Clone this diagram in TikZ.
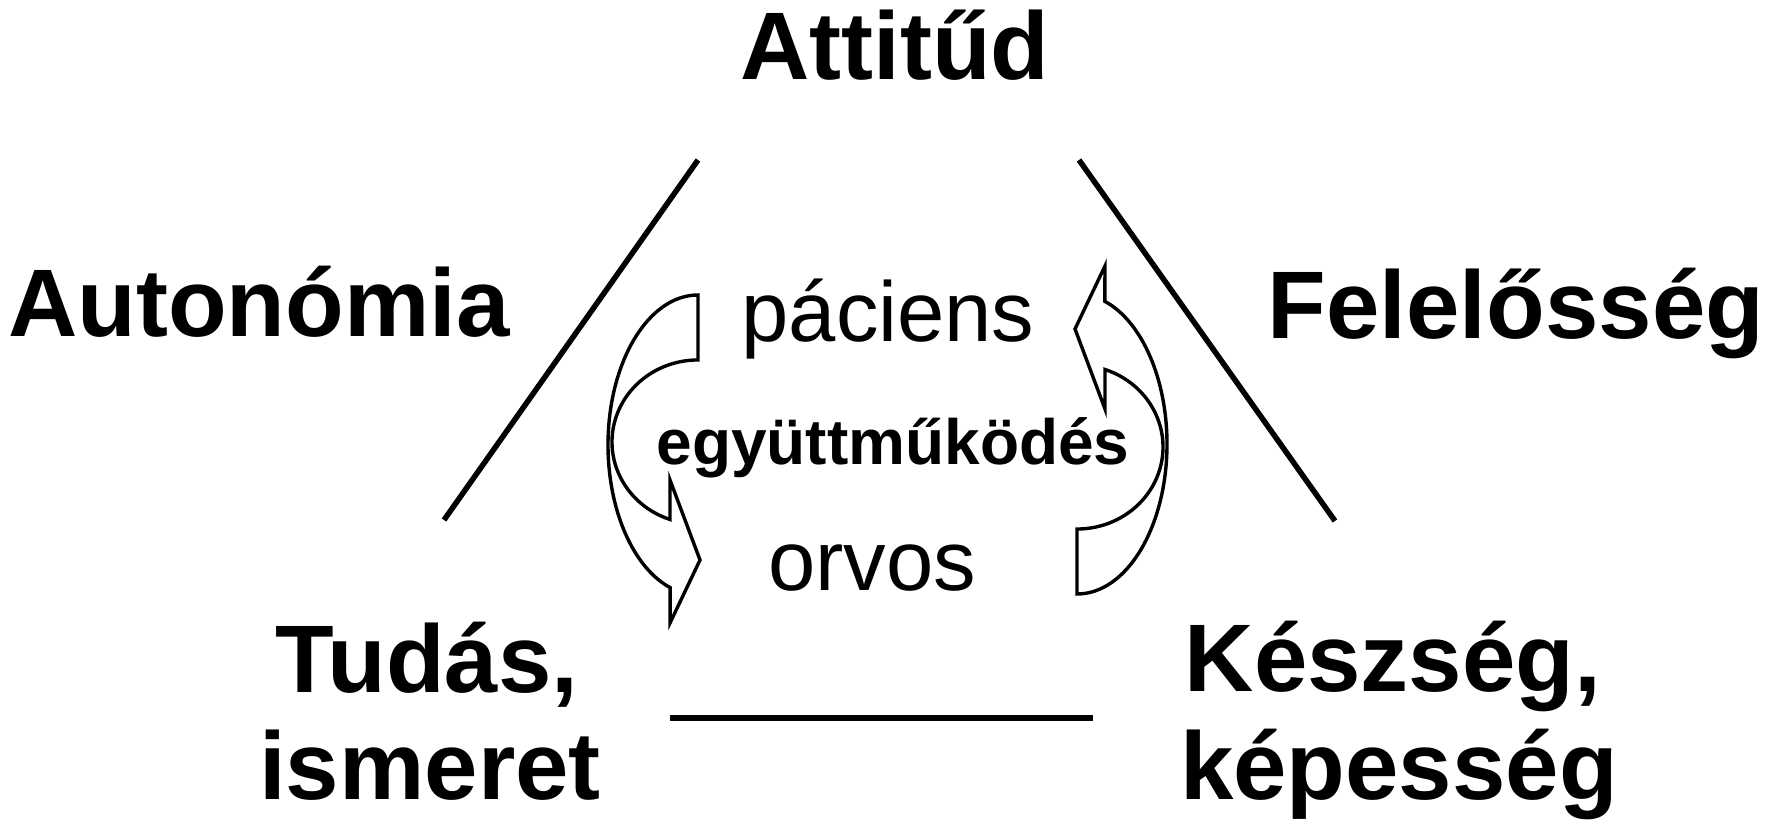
\documentclass[tikz,border=0pt]{standalone}
\usepackage{fontspec}
\setmainfont{Liberation Sans}
\begin{document}
\begin{tikzpicture}[x=1pt,y=1pt,
  big/.style={font=\fontsize{96}{100}\selectfont\bfseries, inner sep=0pt, anchor=base},
  mid/.style={font=\fontsize{85}{90}\selectfont, inner sep=0pt, anchor=base},
  coop/.style={font=\fontsize{64}{70}\selectfont\bfseries, inner sep=0pt, anchor=base},
  side/.style={line width=5.5pt},
  curvarrow/.style={draw=black, line width=3.4pt, line join=miter}]
\useasboundingbox (0,0) rectangle (1773,829);

% corner and side labels
\node[big] (att) at (895,749) {Attitűd};
\node[big] (auto) at (259,492) {Autonómia};
\node[big] (fel) at (1516,490) {Felelősség};
\node[big] (tud1) at (427,136) {Tudás,};
\node[big] (tud2) at (430,29) {ismeret};
\node[big] (kesz1) at (1393,137) {Készség,};
\node[big] (kesz2) at (1399,29) {képesség};

% centre labels
\node[mid] (pac) at (888,487) {páciens};
\node[coop] (egy) at (893,364) {együttműködés};
\node[mid] (orv) at (872,238) {orvos};

% triangle sides
\coordinate (l1) at (444,309);
\coordinate (l2) at (698,669);
\coordinate (r1) at (1079,669);
\coordinate (r2) at (1335,308);
\coordinate (b1) at (670,111);
\coordinate (b2) at (1093,111);
\draw[side] (l1) -- (l2);
\draw[side] (r1) -- (r2);
\draw[side] (b1) -- (b2);

% curved arrows
\draw[curvarrow] (698,534) arc[start angle=90,end angle=252,x radius=90pt,y radius=150pt]
  -- (670,206) -- (700,269) -- (670,349) -- (670,309.5)
  arc[start angle=251,end angle=90,x radius=86pt,y radius=82pt] -- cycle;
\begin{scope}[rotate around={180:(887.5,384.5)}]
\draw[curvarrow] (698,534) arc[start angle=90,end angle=252,x radius=90pt,y radius=150pt]
  -- (670,206) -- (700,269) -- (670,349) -- (670,309.5)
  arc[start angle=251,end angle=90,x radius=86pt,y radius=82pt] -- cycle;
\end{scope}
\end{tikzpicture}
\end{document}
